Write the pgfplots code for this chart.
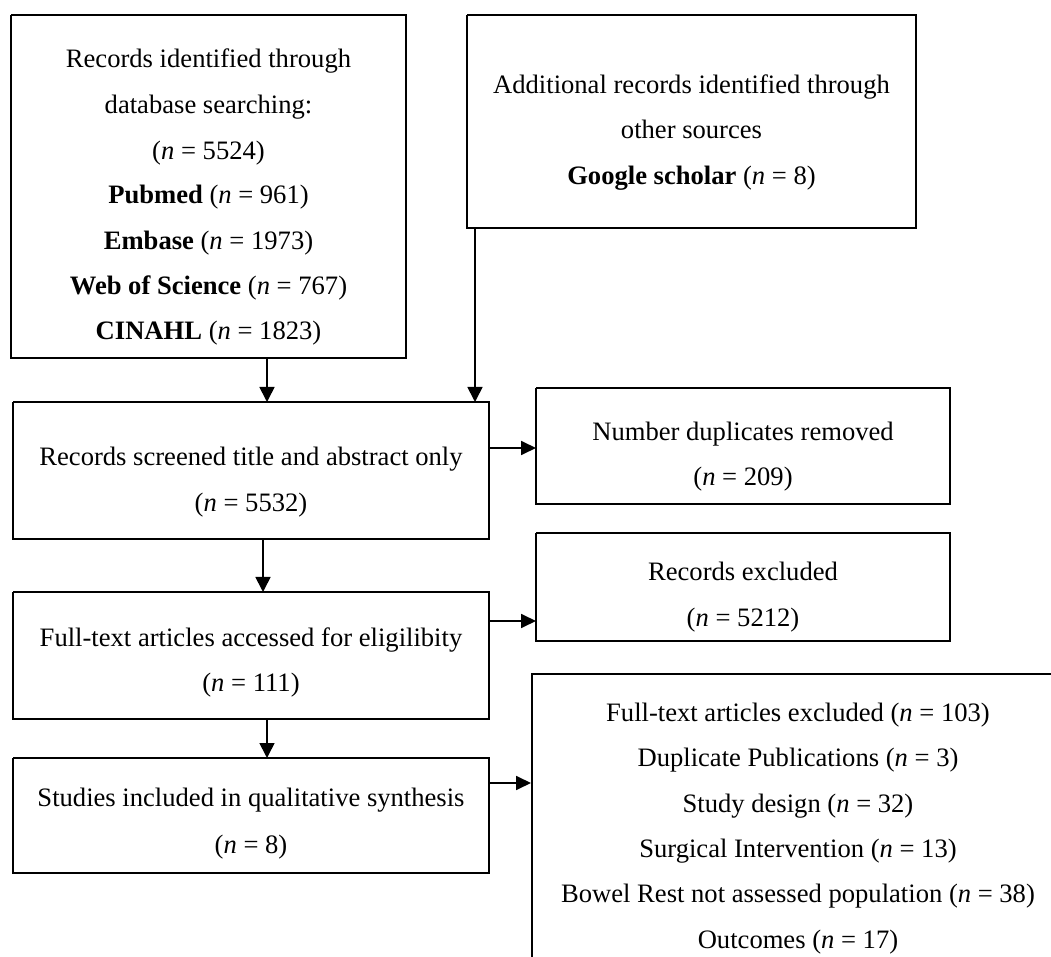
\documentclass[border=0pt]{standalone}
\usepackage{fontspec}
\setmainfont{Liberation Serif}
\usepackage{pgfplots}
\pgfplotsset{compat=1.18}
\usetikzlibrary{arrows.meta}
\newcommand{\nn}[1]{(\textit{n} = #1)}
\begin{document}
\begin{tikzpicture}[
  lbl/.style={font=\fontsize{13.3}{16}\selectfont, text height=8.8pt, text depth=0pt, inner sep=0pt, anchor=center},
  box/.style={black, line width=1.35pt, line join=miter},
  varr/.style={black, line width=0.85pt, -{Triangle[width=7.5pt,length=7.5pt]}},
  harr/.style={black, line width=0.9pt, -{Triangle[width=7pt,length=7.5pt]}}
]
\begin{axis}[scale only axis, width=525.5pt, height=478.5pt,
  xmin=0, xmax=1051, ymin=0, ymax=957, y dir=reverse,
  hide axis, clip=true]
\addplot[draw=none] coordinates {(0,0) (1051,957)};
% boxes
\addplot[box] coordinates {(11,15) (406,15) (406,358) (11,358) (11,15)};
\addplot[box] coordinates {(467,15) (916,15) (916,228) (467,228) (467,15)};
\addplot[box] coordinates {(13,402) (489,402) (489,539) (13,539) (13,402)};
\addplot[box] coordinates {(536,388) (950,388) (950,504) (536,504) (536,388)};
\addplot[box] coordinates {(536,533) (950,533) (950,641) (536,641) (536,533)};
\addplot[box] coordinates {(13,592) (489,592) (489,719) (13,719) (13,592)};
\addplot[box] coordinates {(13,758) (489,758) (489,873) (13,873) (13,758)};
\addplot[box] coordinates {(532,980) (532,674) (1080,674)};
% arrows
\addplot[varr] coordinates {(267,358) (267,402)};
\addplot[varr] coordinates {(475,228) (475,402)};
\addplot[harr] coordinates {(489,448) (536,448)};
\addplot[varr] coordinates {(263,539) (263,592)};
\addplot[harr] coordinates {(489,621) (536,621)};
\addplot[varr] coordinates {(267,719) (267,758)};
\addplot[harr] coordinates {(489,783) (531,783)};
% texts
\node[lbl] at (axis cs:208.5,59) {Records identified through};
\node[lbl] at (axis cs:208.5,105) {database searching:};
\node[lbl] at (axis cs:208.5,151) {\nn{5524}};
\node[lbl] at (axis cs:208.5,195) {\textbf{Pubmed} \nn{961}};
\node[lbl] at (axis cs:208.5,241) {\textbf{Embase} \nn{1973}};
\node[lbl] at (axis cs:208.5,286) {\textbf{Web of Science} \nn{767}};
\node[lbl] at (axis cs:208.5,331) {\textbf{CINAHL} \nn{1823}};
\node[lbl] at (axis cs:691.5,85) {Additional records identified through};
\node[lbl] at (axis cs:691.5,130) {other sources};
\node[lbl] at (axis cs:691.5,176) {\textbf{Google scholar} \nn{8}};
\node[lbl] at (axis cs:251,457) {Records screened title and abstract only};
\node[lbl] at (axis cs:251,503) {\nn{5532}};
\node[lbl] at (axis cs:743,432) {Number duplicates removed};
\node[lbl] at (axis cs:743,477) {\nn{209}};
\node[lbl] at (axis cs:743,572) {Records excluded};
\node[lbl] at (axis cs:743,618) {\nn{5212}};
\node[lbl] at (axis cs:251,638) {Full-text articles accessed for eligilibity};
\node[lbl] at (axis cs:251,683) {\nn{111}};
\node[lbl] at (axis cs:251,798) {Studies included in qualitative synthesis};
\node[lbl] at (axis cs:251,845) {\nn{8}};
\node[lbl] at (axis cs:798,713) {Full-text articles excluded \nn{103}};
\node[lbl] at (axis cs:798,758) {Duplicate Publications \nn{3}};
\node[lbl] at (axis cs:798,804) {Study design \nn{32}};
\node[lbl] at (axis cs:798,849) {Surgical Intervention \nn{13}};
\node[lbl] at (axis cs:798,894) {Bowel Rest not assessed population \nn{38}};
\node[lbl] at (axis cs:798,940) {Outcomes \nn{17}};
\end{axis}
\end{tikzpicture}
\end{document}
